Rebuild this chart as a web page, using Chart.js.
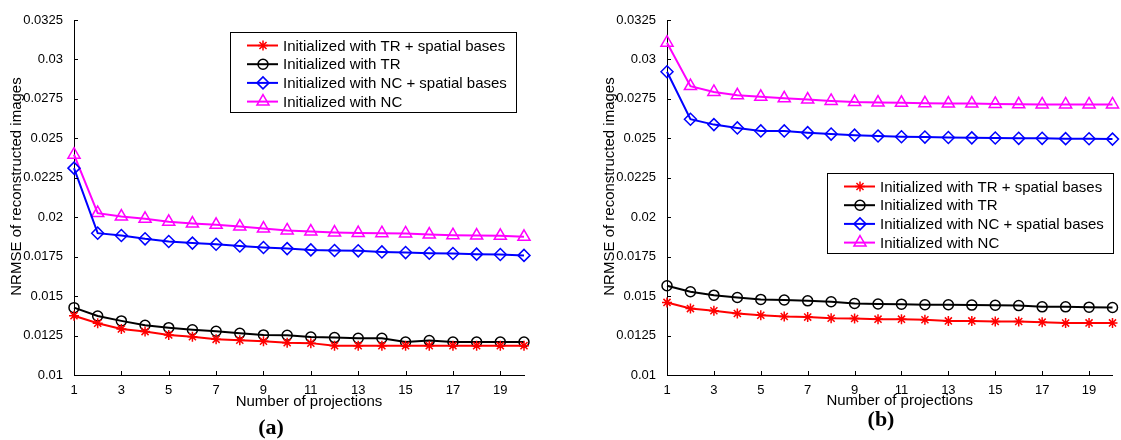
<!DOCTYPE html>
<html>
<head>
<meta charset="utf-8">
<script src="https://cdn.jsdelivr.net/npm/chart.js@4.4.0/dist/chart.umd.min.js"></script>
<style>
  body { margin: 0; background: #fff; }
  canvas { position: absolute; top: 0; }
  #chartA { left: 0; }
  #chartB { left: 593px; }
</style>
</head>
<body>
<canvas id="chartA" width="545" height="440"></canvas>
<canvas id="chartB" width="528" height="440"></canvas>
<script>
// x values and tick labels
const projections = [1, 2, 3, 4, 5, 6, 7, 8, 9, 10, 11, 12, 13, 14, 15, 16, 17, 18, 19, 20];
const xTicks = [1, 3, 5, 7, 9, 11, 13, 15, 17, 19];
const yTicks = [0.01, 0.0125, 0.015, 0.0175, 0.02, 0.0225, 0.025, 0.0275, 0.03, 0.0325];

const seriesNames = [
    'Initialized with TR + spatial bases',
    'Initialized with TR',
    'Initialized with NC + spatial bases',
    'Initialized with NC'
];

// panel (a)
const aTRSpatial = [0.01376, 0.01328, 0.01292, 0.01275, 0.01254, 0.01243, 0.01226, 0.0122, 0.01214, 0.01205,
    0.01202, 0.01186, 0.01186, 0.01186, 0.01186, 0.01186, 0.01186, 0.01186, 0.01186, 0.01186];
const aTR = [0.01427, 0.01374, 0.01343, 0.01315, 0.013, 0.01287, 0.01277, 0.01264, 0.01254, 0.01252,
    0.01241, 0.01237, 0.01233, 0.01233, 0.01209, 0.01218, 0.01209, 0.01209, 0.01209, 0.01209];
const aNCSpatial = [0.02311, 0.01899, 0.01884, 0.01863, 0.01846, 0.01836, 0.01829, 0.01818, 0.01808, 0.01801,
    0.01793, 0.01789, 0.01787, 0.0178, 0.01776, 0.01772, 0.0177, 0.01766, 0.01764, 0.01758];
const aNC = [0.02396, 0.02026, 0.02004, 0.0199, 0.01971, 0.0196, 0.01952, 0.01941, 0.01928, 0.01916,
    0.01909, 0.01903, 0.019, 0.01899, 0.01897, 0.0189, 0.01886, 0.01884, 0.01882, 0.01876];

// panel (b)
const bTRSpatial = [0.0146, 0.01421, 0.01407, 0.0139, 0.01379, 0.01371, 0.01367, 0.0136, 0.01358, 0.01354,
    0.01354, 0.0135, 0.01343, 0.01343, 0.01339, 0.01339, 0.01335, 0.01329, 0.0133, 0.0133];
const bTR = [0.01566, 0.01528, 0.01506, 0.01491, 0.01479, 0.01475, 0.0147, 0.01464, 0.01453, 0.0145,
    0.01449, 0.01445, 0.01445, 0.01443, 0.01442, 0.0144, 0.01432, 0.01432, 0.0143, 0.01428];
const bNCSpatial = [0.02922, 0.02621, 0.02587, 0.02566, 0.02547, 0.02547, 0.02536, 0.02527, 0.0252, 0.02515,
    0.0251, 0.02508, 0.02505, 0.02503, 0.02502, 0.025, 0.025, 0.02498, 0.02497, 0.02495];
const bNC = [0.03106, 0.02831, 0.02794, 0.02773, 0.02763, 0.02754, 0.02746, 0.02737, 0.0273, 0.02727,
    0.02725, 0.02722, 0.0272, 0.0272, 0.02718, 0.02716, 0.02715, 0.02715, 0.02715, 0.02715];

// styles
const seriesColors = ['#ff0000', '#000000', '#0000ff', '#ff00ff'];
const seriesMarkers = ['star', 'circle', 'rectRot', 'triangle'];
const markerSizes = [5, 5, 6, 7];

const sans = '"Liberation Sans", Arial, sans-serif';
Chart.defaults.font.family = sans;
Chart.defaults.color = '#000';

// ticks pointing inward, axis titles, caption and the boxed legend
const panelPlugin = {
    id: 'panel',
    afterDraw(chart, args, opts) {
        const ctx = chart.ctx;
        const area = chart.chartArea;
        const xs = chart.scales.x;
        const ys = chart.scales.y;
        ctx.save();
        ctx.strokeStyle = '#000';
        ctx.lineWidth = 1;
        ctx.beginPath();
        xs.ticks.forEach(t => {
            const px = Math.round(xs.getPixelForValue(t.value)) + 0.5;
            ctx.moveTo(px, area.bottom);
            ctx.lineTo(px, area.bottom - 4);
        });
        ys.ticks.forEach(t => {
            const py = Math.round(ys.getPixelForValue(t.value)) + 0.5;
            ctx.moveTo(area.left, py);
            ctx.lineTo(area.left + 4, py);
        });
        ctx.stroke();

        ctx.fillStyle = '#000';
        ctx.font = '15px ' + sans;
        ctx.textAlign = 'center';
        ctx.textBaseline = 'alphabetic';
        ctx.fillText('Number of projections', (area.left + area.right) / 2 + 10, area.bottom + opts.titleDy);
        ctx.save();
        ctx.translate(area.left - 57, (area.top + area.bottom) / 2 - 11);
        ctx.rotate(-Math.PI / 2);
        ctx.textBaseline = 'middle';
        ctx.fillText('NRMSE of reconstructed images', 0, 0);
        ctx.restore();

        ctx.font = 'bold 22px "Liberation Serif", serif';
        ctx.textBaseline = 'middle';
        ctx.fillText(opts.caption, opts.captionX, opts.captionY);

        // legend
        const bx = area.left + opts.legendX;
        const by = area.top + opts.legendY;
        ctx.fillStyle = '#fff';
        ctx.fillRect(bx, by, 286, 80);
        ctx.strokeStyle = '#000';
        ctx.strokeRect(bx + 0.5, by + 0.5, 286, 80);
        ctx.font = '15px ' + sans;
        ctx.textAlign = 'left';
        chart.data.datasets.forEach((ds, i) => {
            const ry = by + 13.5 + i * 18.7;
            ctx.strokeStyle = ds.borderColor;
            ctx.lineWidth = 2;
            ctx.beginPath();
            ctx.moveTo(bx + 17, ry);
            ctx.lineTo(bx + 48, ry);
            ctx.stroke();
            ctx.fillStyle = 'rgba(0,0,0,0)';
            ctx.lineWidth = 1.5;
            Chart.helpers.drawPoint(ctx, {
                pointStyle: ds.pointStyle, radius: ds.pointRadius, borderWidth: 1.5, rotation: 0
            }, bx + 33, ry);
            ctx.fillStyle = '#000';
            ctx.fillText(ds.label, bx + 53, ry + 1);
        });
        ctx.restore();
    }
};

function buildDatasets(series) {
    return series.map((vals, i) => ({
        label: seriesNames[i],
        data: vals.map((v, k) => ({x: projections[k], y: v})),
        borderColor: seriesColors[i],
        backgroundColor: 'rgba(0,0,0,0)',
        pointStyle: seriesMarkers[i],
        pointRadius: markerSizes[i],
        pointBorderWidth: 1.5,
        pointBorderColor: seriesColors[i],
        pointBackgroundColor: 'rgba(0,0,0,0)',
        borderWidth: 2,
        tension: 0,
        fill: false,
        clip: false
    }));
}

function init(id, series, panel) {
    return new Chart(document.getElementById(id).getContext('2d'), {
        type: 'line',
        data: {datasets: buildDatasets(series)},
        plugins: [panelPlugin],
        options: {
            responsive: false,
            animation: false,
            events: [],
            layout: {padding: {top: 20, right: panel.padRight, bottom: 0, left: 0}},
            plugins: {
                legend: {display: false},
                tooltip: {enabled: false},
                panel: panel
            },
            scales: {
                x: {
                    type: 'linear',
                    min: 1,
                    max: 20,
                    grid: {display: false},
                    border: {display: true, color: '#000', width: 1},
                    afterBuildTicks: s => { s.ticks = xTicks.map(v => ({value: v})); },
                    afterFit: s => { s.height = 65; },
                    ticks: {font: {size: 13}, padding: 0, maxRotation: 0, autoSkip: false}
                },
                y: {
                    type: 'linear',
                    min: 0.01,
                    max: 0.0325,
                    grid: {display: false},
                    border: {display: true, color: '#000', width: 1},
                    afterBuildTicks: s => { s.ticks = yTicks.map(v => ({value: v})); },
                    afterFit: s => { s.width = 74; },
                    ticks: {
                        font: {size: 13},
                        padding: 3,
                        callback: v => String(+v.toFixed(4))
                    }
                }
            }
        }
    });
}

var chartA = init('chartA', [aTRSpatial, aTR, aNCSpatial, aNC],
    {padRight: 21, caption: '(a)', captionX: 271, captionY: 428, titleDy: 31,
     legendX: 156, legendY: 12});
var chartB = init('chartB', [bTRSpatial, bTR, bNCSpatial, bNC],
    {padRight: 5, caption: '(b)', captionX: 288, captionY: 420, titleDy: 30,
     legendX: 160, legendY: 153});
</script>
</body>
</html>
